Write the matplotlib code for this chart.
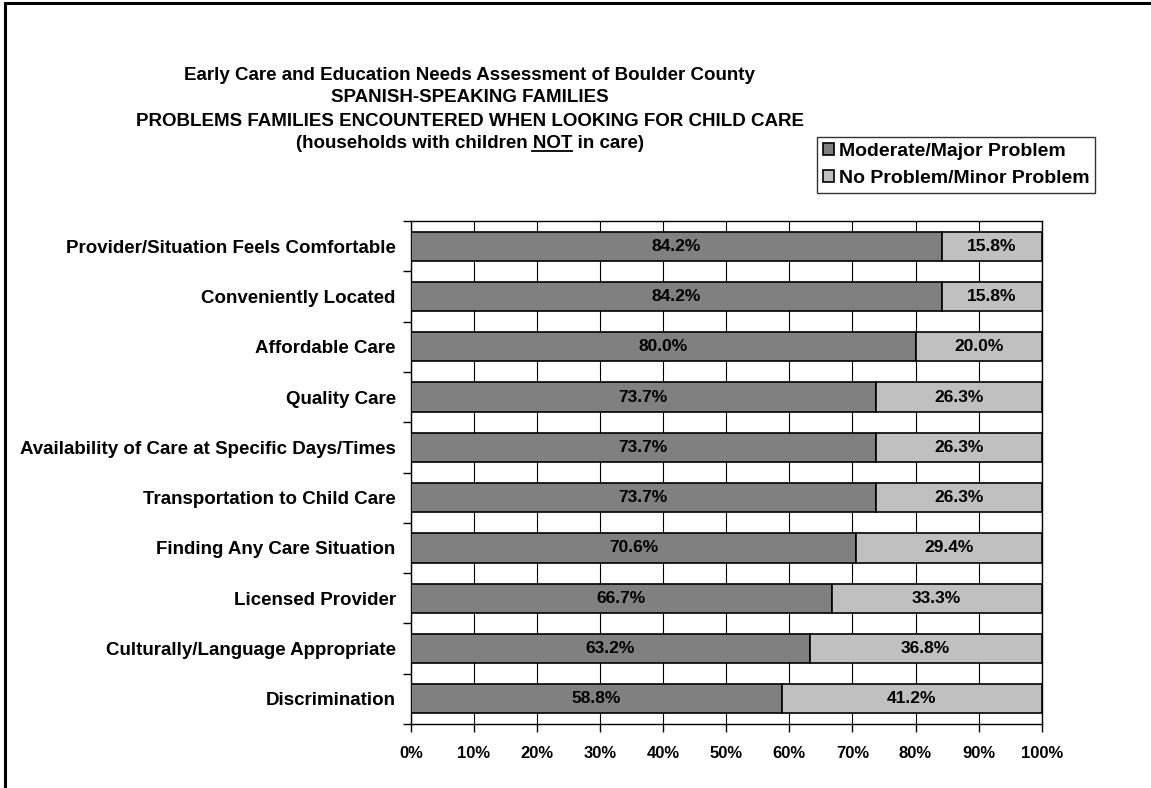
import numpy as np
import matplotlib.pyplot as plt
from matplotlib.patches import Rectangle
from matplotlib.lines import Line2D

plt.rcParams['font.family'] = ['Liberation Sans', 'DejaVu Sans']

# data (top to bottom as in the chart)
categories = ['Provider/Situation Feels Comfortable', 'Conveniently Located',
              'Affordable Care', 'Quality Care',
              'Availability of Care at Specific Days/Times',
              'Transportation to Child Care', 'Finding Any Care Situation',
              'Licensed Provider', 'Culturally/Language Appropriate',
              'Discrimination']
moderate_major = [84.2, 84.2, 80.0, 73.7, 73.7, 73.7, 70.6, 66.7, 63.2, 58.8]
no_minor = [15.8, 15.8, 20.0, 26.3, 26.3, 26.3, 29.4, 33.3, 36.8, 41.2]
series_names = ['Moderate/Major Problem', 'No Problem/Minor Problem']
xticks = np.arange(0, 101, 10)

fig = plt.figure(figsize=(11.51, 7.88), dpi=100)
ax = fig.add_axes([0.357, 0.0812, 0.548, 0.6383])

y = np.arange(len(categories))
dark = '#808080'
light = '#C0C0C0'
ax.barh(y, moderate_major, height=0.58, color=dark, edgecolor='black',
        linewidth=1.2, label=series_names[0], zorder=3)
ax.barh(y, no_minor, left=moderate_major, height=0.58, color=light,
        edgecolor='black', linewidth=1.2, label=series_names[1], zorder=3)

for i in range(len(categories)):
    ax.text(moderate_major[i] / 2, y[i], '%.1f%%' % moderate_major[i],
            ha='center', va='center', fontsize=12.5, fontweight='bold', zorder=4)
    ax.text(moderate_major[i] + no_minor[i] / 2, y[i], '%.1f%%' % no_minor[i],
            ha='center', va='center', fontsize=12.5, fontweight='bold', zorder=4)

ax.set_xlim(0, 100)
ax.set_ylim(len(categories) - 0.5, -0.5)
ax.set_xticks(xticks)
ax.set_xticklabels(['%d%%' % v for v in xticks], fontsize=12, fontweight='bold')
ax.set_yticks(y)
ax.set_yticklabels(categories, fontsize=13.5, fontweight='bold')
ax.set_yticks(np.arange(-0.5, len(categories)), minor=True)
ax.tick_params(axis='y', which='major', length=0, pad=11)
ax.tick_params(axis='y', which='minor', length=6, width=1, direction='out')
ax.tick_params(axis='x', length=6, width=1, direction='out', pad=10)
ax.grid(axis='x', color='black', linewidth=0.8, zorder=0)
for s in ax.spines.values():
    s.set_linewidth(1.0)
    s.set_color('black')

ax.legend(loc='upper left', bbox_to_anchor=(0.71, 0.826), bbox_transform=fig.transFigure,
          prop={'weight': 'bold', 'size': 14}, frameon=True, fancybox=False,
          edgecolor='black', handlelength=0.55, handleheight=0.55,
          handletextpad=0.25, borderpad=0.3, labelspacing=0.5, borderaxespad=0)

# titles
cx = 0.408
fs = 13.5
fig.text(cx, 1 - 75 / 788, 'Early Care and Education Needs Assessment of Boulder County',
         ha='center', va='center', fontsize=fs, fontweight='bold')
fig.text(cx, 1 - 98 / 788, 'SPANISH-SPEAKING FAMILIES',
         ha='center', va='center', fontsize=fs, fontweight='bold')
fig.text(cx, 1 - 121 / 788, 'PROBLEMS FAMILIES ENCOUNTERED WHEN LOOKING FOR CHILD CARE',
         ha='center', va='center', fontsize=fs, fontweight='bold')
line4 = '(households with children NOT in care)'
t4 = fig.text(cx, 1 - 144 / 788, line4, ha='center', va='center',
              fontsize=fs, fontweight='bold')

# underline "NOT"
fig.canvas.draw()
r = fig.canvas.get_renderer()
full_bb = t4.get_window_extent(r)
tmp = fig.text(0, 0, '(households with children ', fontsize=fs, fontweight='bold')
pre_w = tmp.get_window_extent(r).width
tmp.remove()
tmp = fig.text(0, 0, 'NOT', fontsize=fs, fontweight='bold')
not_w = tmp.get_window_extent(r).width
tmp.remove()
x0 = (full_bb.x0 + pre_w) / fig.bbox.width
x1 = (full_bb.x0 + pre_w + not_w) / fig.bbox.width
yu = (full_bb.y0 + 2) / fig.bbox.height
fig.add_artist(Line2D([x0, x1], [yu, yu], color='black', linewidth=1.3,
                      transform=fig.transFigure))

# outer frame (left and top visible)
fig.add_artist(Rectangle((5 / 1151, -0.05), 1.1, 0.05 + 1 - 3 / 788,
                         transform=fig.transFigure, fill=False,
                         edgecolor='black', linewidth=2.2))

fig.savefig('out.png', dpi=100)
